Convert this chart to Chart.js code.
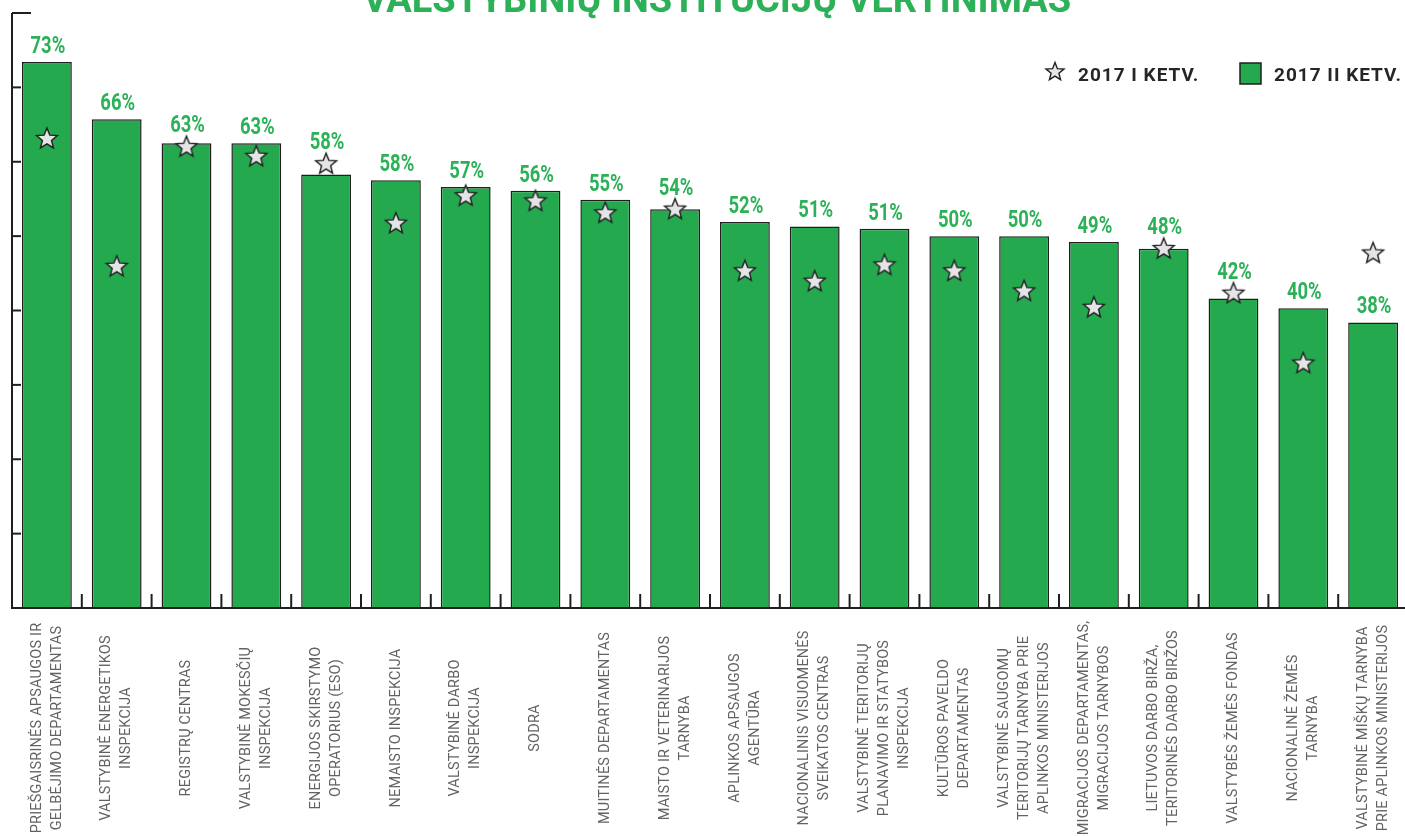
<!DOCTYPE html>
<html>
<head>
<meta charset="utf-8">
<title>Valstybinių institucijų vertinimas</title>
<script src="https://cdn.jsdelivr.net/npm/chart.js@4.4.1/dist/chart.umd.min.js"></script>
<style>
  html, body { margin: 0; padding: 0; background: #fff; overflow: hidden; }
  #wrap { width: 1420px; height: 836px; }
</style>
</head>
<body>
<div id="wrap"><canvas id="chart"></canvas></div>
<script>
// institutions, one entry per bar (lines of the rotated label)
const categories = [
  ['PRIEŠGAISRINĖS APSAUGOS IR', 'GELBĖJIMO DEPARTAMENTAS'],
  ['VALSTYBINĖ ENERGETIKOS', 'INSPEKCIJA'],
  ['REGISTRŲ CENTRAS'],
  ['VALSTYBINĖ MOKESČIŲ', 'INSPEKCIJA'],
  ['ENERGIJOS SKIRSTYMO', 'OPERATORIUS (ESO)'],
  ['NEMAISTO INSPEKCIJA'],
  ['VALSTYBINĖ DARBO', 'INSPEKCIJA'],
  ['SODRA'],
  ['MUITINĖS DEPARTAMENTAS'],
  ['MAISTO IR VETERINARIJOS', 'TARNYBA'],
  ['APLINKOS APSAUGOS', 'AGENTŪRA'],
  ['NACIONALINIS VISUOMENĖS', 'SVEIKATOS CENTRAS'],
  ['VALSTYBINĖ TERITORIJŲ', 'PLANAVIMO IR STATYBOS', 'INSPEKCIJA'],
  ['KULTŪROS PAVELDO', 'DEPARTAMENTAS'],
  ['VALSTYBINĖ SAUGOMŲ', 'TERITORIJŲ TARNYBA PRIE', 'APLINKOS MINISTERIJOS'],
  ['MIGRACIJOS DEPARTAMENTAS,', 'MIGRACIJOS TARNYBOS'],
  ['LIETUVOS DARBO BIRŽA,', 'TERITORINĖS DARBO BIRŽOS'],
  ['VALSTYBĖS ŽEMĖS FONDAS'],
  ['NACIONALINĖ ŽEMĖS', 'TARNYBA'],
  ['VALSTYBINĖ MIŠKŲ TARNYBA', 'PRIE APLINKOS MINISTERIJOS']
];

// 2017 II ketv. (bars), %
const q2Values = [73.4, 65.7, 62.5, 62.5, 58.3, 57.5, 56.6, 56.1, 54.9, 53.6,
                  51.9, 51.3, 51.0, 50.0, 50.0, 49.2, 48.3, 41.6, 40.3, 38.4];
// 2017 I ketv. (stars), %
const q1Values = [63.2, 46.0, 62.1, 60.8, 59.8, 51.8, 55.5, 54.8, 53.2, 53.7,
                  45.4, 44.0, 46.2, 45.4, 42.7, 40.5, 48.4, 42.4, 33.0, 47.8];

const seriesNames = ['2017 I KETV.', '2017 II KETV.'];
const titleText = 'VALSTYBINIŲ INSTITUCIJŲ VERTINIMAS';
const yMax = 80;
const yStep = 10;

const barGreen = '#24a94f';
const textGreen = '#2cb158';
const starFill = '#e5e5e8';
const ink = '#1f1f1f';

function drawStar(ctx, cx, cy, R, r) {
  ctx.beginPath();
  for (let k = 0; k < 10; k++) {
    const a = -Math.PI / 2 + k * Math.PI / 5;
    const rad = k % 2 === 0 ? R : r;
    const px = cx + rad * Math.cos(a);
    const py = cy + rad * Math.sin(a);
    if (k === 0) ctx.moveTo(px, py); else ctx.lineTo(px, py);
  }
  ctx.closePath();
  ctx.fillStyle = starFill;
  ctx.fill();
  ctx.strokeStyle = ink;
  ctx.lineWidth = 1.4;
  ctx.lineJoin = 'miter';
  ctx.stroke();
}

// star image used as point style
const starImg = document.createElement('canvas');
starImg.width = 26;
starImg.height = 26;
drawStar(starImg.getContext('2d'), 13, 14, 11, 4.8);

const decor = {
  id: 'decor',
  afterDatasetsDraw(chart) {
    const { ctx, chartArea, scales: { x, y } } = chart;
    const bars = chart.getDatasetMeta(0).data;
    const stars = chart.getDatasetMeta(1).data;

    // axes
    ctx.save();
    ctx.strokeStyle = ink;
    ctx.lineWidth = 2;
    ctx.beginPath();
    ctx.moveTo(chartArea.left, chartArea.top);
    ctx.lineTo(chartArea.left, chartArea.bottom);
    ctx.lineTo(chartArea.right, chartArea.bottom);
    ctx.stroke();
    y.ticks.forEach(t => {
      const py = y.getPixelForValue(t.value);
      const len = t.value === yMax ? 19 : 9;
      ctx.beginPath();
      ctx.moveTo(chartArea.left, py);
      ctx.lineTo(chartArea.left + len, py);
      ctx.stroke();
    });
    for (let i = 1; i < categories.length; i++) {
      const px = (x.getPixelForValue(i - 1) + x.getPixelForValue(i)) / 2;
      ctx.beginPath();
      ctx.moveTo(px, chartArea.bottom);
      ctx.lineTo(px, chartArea.bottom - 14);
      ctx.stroke();
    }

    // value labels, lifted over a star sitting on the bar top
    ctx.fillStyle = textGreen;
    ctx.font = 'bold 23px Roboto';
    ctx.textAlign = 'center';
    ctx.textBaseline = 'alphabetic';
    bars.forEach((bar, i) => {
      let base = bar.y - 9;
      const sy = stars[i].y;
      if (sy < bar.y + 12 && sy > bar.y - 30) base = Math.min(base, sy - 14);
      ctx.save();
      ctx.translate(bar.x + 1, base);
      ctx.scale(0.8, 1);
      ctx.fillText(Math.round(q2Values[i]) + '%', 0, 0);
      ctx.restore();
    });

    // category labels, rotated
    ctx.fillStyle = '#626262';
    ctx.font = '14.5px Roboto';
    ctx.letterSpacing = '0.2px';
    ctx.textBaseline = 'middle';
    bars.forEach((bar, i) => {
      const lines = categories[i];
      ctx.save();
      ctx.translate(bar.x, 728);
      ctx.rotate(-Math.PI / 2);
      lines.forEach((line, j) => {
        ctx.fillText(line, 0, (j - (lines.length - 1) / 2) * 20);
      });
      ctx.restore();
    });
    ctx.letterSpacing = '0px';

    // title (runs off the top edge)
    ctx.fillStyle = textGreen;
    ctx.font = 'bold 38px Roboto';
    ctx.textBaseline = 'alphabetic';
    ctx.fillText(titleText, 717, 12);

    // legend
    ctx.textAlign = 'left';
    ctx.font = 'bold 19px Roboto';
    ctx.letterSpacing = '1px';
    drawStar(ctx, 1055, 72, 9.5, 4.1);
    ctx.fillStyle = '#262626';
    ctx.fillText(seriesNames[0], 1078, 81);
    ctx.fillStyle = barGreen;
    ctx.fillRect(1240, 63, 21, 21);
    ctx.strokeStyle = ink;
    ctx.lineWidth = 1.5;
    ctx.strokeRect(1240, 63, 21, 21);
    ctx.fillStyle = '#262626';
    ctx.fillText(seriesNames[1], 1274, 81);
    ctx.restore();
  }
};

new Chart(document.getElementById('chart'), {
  type: 'bar',
  data: {
    labels: categories.map(c => c.join(' ')),
    datasets: [
      {
        type: 'bar',
        label: seriesNames[1],
        data: q2Values,
        backgroundColor: barGreen,
        borderColor: ink,
        borderWidth: 1.5,
        barPercentage: 0.714,
        categoryPercentage: 1,
        order: 1
      },
      {
        type: 'line',
        label: seriesNames[0],
        data: q1Values,
        showLine: false,
        pointStyle: starImg,
        pointRadius: 11,
        order: 0
      }
    ]
  },
  options: {
    responsive: true,
    maintainAspectRatio: false,
    animation: false,
    layout: { padding: { left: 12, right: 8, top: 13, bottom: 228 } },
    plugins: {
      legend: { display: false },
      title: { display: false },
      tooltip: { enabled: false }
    },
    scales: {
      x: { display: false },
      y: { display: false, min: 0, max: yMax, ticks: { stepSize: yStep } }
    }
  },
  plugins: [decor]
});
</script>
</body>
</html>
